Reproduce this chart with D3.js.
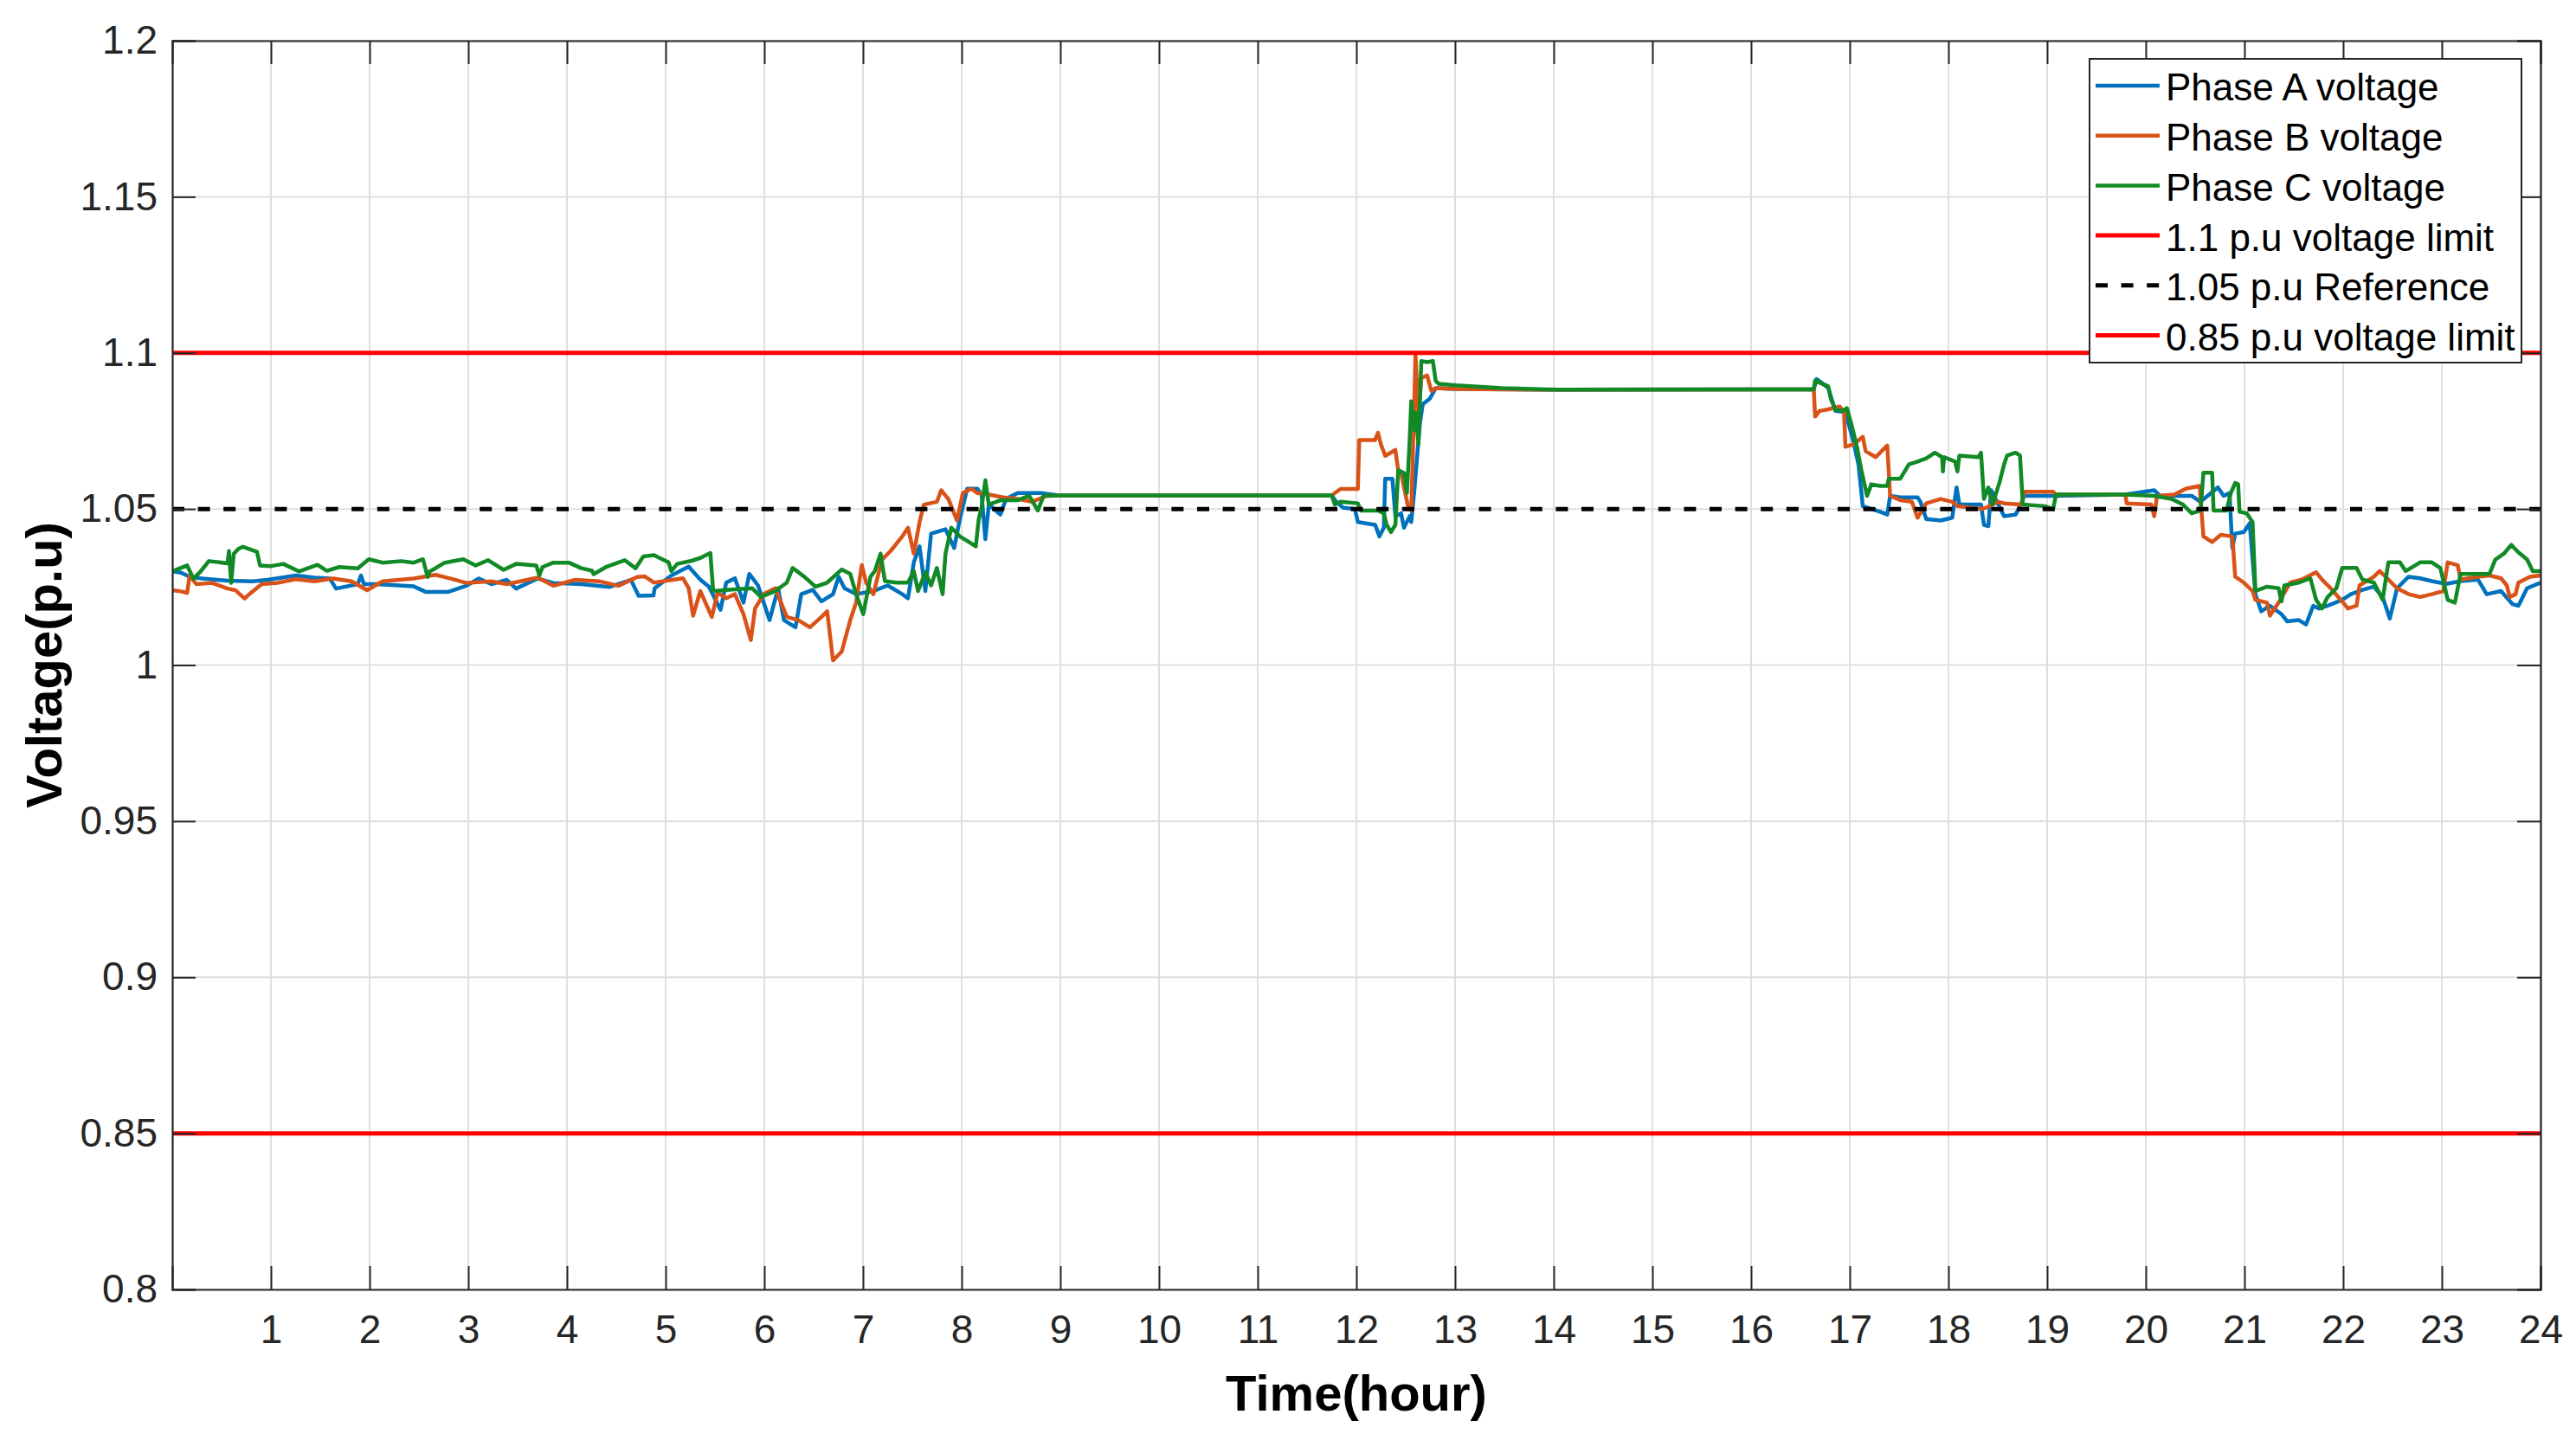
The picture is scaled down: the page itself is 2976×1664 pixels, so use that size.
<!DOCTYPE html>
<html>
<head>
<meta charset="utf-8">
<script src="https://cdn.jsdelivr.net/npm/d3@7"></script>
<style>
  body { margin: 0; background: #fff; }
  text { font-family: "Liberation Sans", Arial, sans-serif; }
</style>
</head>
<body>
<div id="voltage_chart"></div>
<script>
// hours on the x axis, tick labels
const xTicks = d3.range(1, 25);
const yTicks = [0.8, 0.85, 0.9, 0.95, 1.0, 1.05, 1.1, 1.15, 1.2];
const yTickLabels = ["0.8", "0.85", "0.9", "0.95", "1", "1.05", "1.1", "1.15", "1.2"];

const legendLabels = ["Phase A voltage", "Phase B voltage", "Phase C voltage",
  "1.1 p.u voltage limit", "1.05 p.u Reference", "0.85 p.u voltage limit"];

// reference levels (p.u)
const upperLimit = 1.1;
const referenceLevel = 1.05;
const lowerLimit = 0.85;

// [hour, voltage p.u]
const phaseA = [
  [0.0,1.0300],[0.088,1.0296],[0.182,1.0282],[0.308,1.0277],[0.56,1.0270],[0.811,1.0268],[0.969,1.0273],
  [1.252,1.0287],[1.44,1.0280],[1.597,1.0277],[1.66,1.0245],[1.881,1.0259],[1.912,1.0287],[1.943,1.0259],
  [2.069,1.0259],[2.258,1.0256],[2.447,1.0252],[2.572,1.0234],[2.792,1.0234],[2.981,1.0254],[3.107,1.0277],
  [3.233,1.0259],[3.39,1.0273],[3.484,1.0245],[3.704,1.0277],[3.862,1.0263],[4.145,1.0259],[4.428,1.0250],
  [4.648,1.0273],[4.726,1.0222],[4.877,1.0223],[4.889,1.0246],[5.058,1.0287],[5.234,1.0315],[5.351,1.0274],
  [5.439,1.0251],[5.556,1.0177],[5.614,1.0264],[5.702,1.0278],[5.789,1.0200],[5.848,1.0292],[5.936,1.0255],
  [6.053,1.0144],[6.14,1.0246],[6.199,1.0144],[6.316,1.0121],[6.374,1.0227],[6.491,1.0241],[6.579,1.0204],
  [6.696,1.0227],[6.754,1.0283],[6.813,1.0246],[6.93,1.0227],[7.105,1.0237],[7.251,1.0255],[7.398,1.0227],
  [7.456,1.0214],[7.515,1.0329],[7.573,1.0380],[7.632,1.0237],[7.69,1.0421],[7.836,1.0435],[7.924,1.0375],
  [7.982,1.0468],[8.056,1.0565],[8.158,1.0565],[8.202,1.0546],[8.24,1.0403],[8.275,1.0514],[8.392,1.0482],
  [8.45,1.0532],[8.567,1.0551],[8.801,1.0551],[9.006,1.0543],[11.751,1.0543],
  [11.795,1.0523],[11.868,1.0504],[11.985,1.0500],[12.015,1.0458],[12.19,1.0449],[12.234,1.0412],
  [12.278,1.0440],[12.292,1.0597],[12.365,1.0597],[12.395,1.0477],[12.453,1.0486],[12.482,1.0440],
  [12.541,1.0477],[12.556,1.0458],[12.585,1.0551],[12.614,1.0661],[12.643,1.0772],[12.673,1.0836],
  [12.746,1.0854],[12.804,1.0887],[13.009,1.0884],[14.061,1.0882],[16.635,1.0883],
  [16.664,1.0916],[16.781,1.0888],[16.854,1.0814],[16.956,1.0810],[17.029,1.0726],[17.088,1.0643],
  [17.132,1.0509],[17.219,1.0500],[17.307,1.0491],[17.38,1.0482],[17.409,1.0542],[17.512,1.0537],
  [17.687,1.0537],[17.716,1.0523],[17.775,1.0468],[17.921,1.0463],[18.038,1.0472],[18.082,1.0569],
  [18.111,1.0514],[18.33,1.0514],[18.36,1.0449],[18.404,1.0445],[18.433,1.0560],[18.506,1.0514],
  [18.564,1.0477],[18.681,1.0482],[18.725,1.0509],[18.769,1.0542],[19.076,1.0542],[19.792,1.0546],
  [20.085,1.0560],[20.143,1.0542],[20.465,1.0542],[20.553,1.0523],
  [20.731,1.0569],[20.789,1.0542],[20.848,1.0551],[20.877,1.0375],[20.906,1.0421],[20.994,1.0426],
  [21.053,1.0454],[21.111,1.0227],[21.17,1.0172],[21.258,1.0190],[21.375,1.0163],[21.433,1.0140],
  [21.551,1.0144],[21.624,1.0130],[21.697,1.0190],[21.755,1.0181],[21.843,1.0190],[21.99,1.0209],
  [22.078,1.0227],[22.195,1.0241],[22.312,1.0251],[22.4,1.0218],[22.473,1.0149],[22.546,1.0246],
  [22.663,1.0283],[22.78,1.0278],[22.898,1.0269],[23.044,1.0260],[23.19,1.0269],[23.366,1.0274],
  [23.454,1.0227],[23.6,1.0237],[23.717,1.0195],[23.776,1.0190],[23.864,1.0246],[24.0,1.0264]
];

const phaseB = [
  [0.0,1.0240],[0.088,1.0236],[0.151,1.0231],[0.176,1.0287],[0.245,1.0259],[0.403,1.0263],[0.56,1.0245],
  [0.638,1.0240],[0.733,1.0213],[0.796,1.0231],[0.906,1.0259],[1.063,1.0263],[1.252,1.0275],[1.44,1.0268],
  [1.629,1.0277],[1.818,1.0268],[1.975,1.0240],[2.132,1.0268],[2.447,1.0277],[2.667,1.0289],[2.824,1.0277],
  [2.981,1.0263],[3.233,1.0268],[3.39,1.0259],[3.704,1.0280],[3.862,1.0254],[4.082,1.0273],[4.333,1.0268],
  [4.522,1.0254],[4.711,1.0282],[4.789,1.0284],[4.883,1.0264],[5.175,1.0278],[5.234,1.0246],[5.278,1.0158],
  [5.351,1.0237],[5.468,1.0154],[5.526,1.0232],[5.614,1.0214],[5.702,1.0227],[5.789,1.0163],[5.863,1.0080],
  [5.906,1.0181],[5.994,1.0227],[6.111,1.0246],[6.228,1.0154],[6.345,1.0144],[6.462,1.0121],[6.579,1.0154],
  [6.637,1.0172],[6.696,1.0015],[6.784,1.0043],[6.871,1.0144],[6.93,1.0200],[6.988,1.0320],[7.032,1.0264],
  [7.105,1.0227],[7.193,1.0338],[7.281,1.0366],[7.398,1.0412],[7.456,1.0440],[7.515,1.0357],[7.573,1.0458],
  [7.617,1.0514],[7.749,1.0523],[7.792,1.0560],[7.865,1.0532],[7.953,1.0463],[8.012,1.0551],[8.099,1.0565],
  [8.158,1.0551],[8.275,1.0546],[8.421,1.0537],[8.567,1.0532],[8.713,1.0523],[8.86,1.0542],[9.006,1.0543],
  [11.751,1.0543],[11.781,1.0551],[11.839,1.0564],[12.015,1.0564],[12.029,1.0721],[12.19,1.0721],
  [12.219,1.0744],[12.249,1.0707],[12.292,1.0670],[12.395,1.0689],[12.424,1.0624],[12.453,1.0615],
  [12.526,1.0504],[12.556,1.0495],[12.585,1.0818],[12.599,1.0997],[12.629,1.0799],[12.658,1.0919],
  [12.716,1.0928],[12.76,1.0878],[12.804,1.0887],[13.009,1.0884],[14.061,1.0882],[16.635,1.0883],
  [16.649,1.0796],[16.693,1.0814],[16.781,1.0819],[16.898,1.0828],[16.942,1.0810],[16.956,1.0699],
  [17.044,1.0708],[17.132,1.0731],[17.161,1.0685],[17.263,1.0666],[17.365,1.0699],[17.38,1.0703],
  [17.409,1.0542],[17.512,1.0528],[17.629,1.0523],[17.687,1.0472],[17.775,1.0518],[17.921,1.0532],
  [18.038,1.0523],[18.096,1.0509],[18.33,1.0500],[18.389,1.0505],[18.506,1.0523],[18.564,1.0518],
  [18.74,1.0514],[18.769,1.0555],[19.061,1.0555],[19.091,1.0546],[19.792,1.0546],[19.807,1.0518],
  [20.056,1.0514],[20.085,1.0477],[20.114,1.0542],[20.289,1.0546],[20.406,1.0565],[20.545,1.0574],
  [20.584,1.0412],[20.672,1.0394],[20.76,1.0417],[20.877,1.0412],[20.906,1.0283],[20.994,1.0264],
  [21.082,1.0237],[21.111,1.0209],[21.228,1.0200],[21.258,1.0158],[21.346,1.0200],[21.463,1.0264],
  [21.58,1.0274],[21.726,1.0297],[21.785,1.0274],[21.873,1.0246],[21.99,1.0204],[22.048,1.0181],
  [22.136,1.0190],[22.165,1.0255],[22.312,1.0283],[22.37,1.0301],[22.429,1.0283],[22.546,1.0246],
  [22.663,1.0227],[22.78,1.0218],[22.898,1.0227],[23.015,1.0237],[23.059,1.0329],[23.161,1.0320],
  [23.19,1.0274],[23.366,1.0283],[23.483,1.0287],[23.6,1.0278],[23.659,1.0255],[23.688,1.0218],
  [23.747,1.0227],[23.776,1.0264],[23.893,1.0283],[24.0,1.0287]
];

const phaseC = [
  [0.0,1.0300],[0.151,1.0319],[0.214,1.0277],[0.277,1.0296],[0.371,1.0333],[0.56,1.0326],[0.575,1.0365],
  [0.597,1.0263],[0.623,1.0356],[0.67,1.0372],[0.717,1.0379],[0.858,1.0363],[0.89,1.0319],[1.0,1.0317],
  [1.126,1.0324],[1.283,1.0300],[1.472,1.0321],[1.566,1.0302],[1.692,1.0314],[1.881,1.0310],[1.991,1.0339],
  [2.132,1.0328],[2.321,1.0333],[2.447,1.0328],[2.541,1.0339],[2.588,1.0282],[2.61,1.0300],[2.667,1.0310],
  [2.761,1.0328],[2.95,1.0339],[3.075,1.0319],[3.201,1.0336],[3.358,1.0305],[3.484,1.0324],[3.689,1.0319],
  [3.72,1.0287],[3.752,1.0314],[3.862,1.0328],[4.019,1.0328],[4.145,1.0310],[4.255,1.0302],[4.27,1.0291],
  [4.396,1.0314],[4.585,1.0336],[4.695,1.0310],[4.774,1.0348],[4.883,1.0352],[5.029,1.0329],[5.058,1.0301],
  [5.117,1.0324],[5.263,1.0334],[5.351,1.0343],[5.453,1.0359],[5.482,1.0237],[5.643,1.0241],[5.877,1.0246],
  [5.965,1.0218],[6.111,1.0237],[6.228,1.0264],[6.287,1.0311],[6.404,1.0283],[6.52,1.0251],[6.637,1.0264],
  [6.784,1.0306],[6.871,1.0292],[6.93,1.0227],[7.003,1.0163],[7.076,1.0283],[7.12,1.0301],[7.178,1.0357],
  [7.222,1.0269],[7.339,1.0264],[7.456,1.0264],[7.515,1.0301],[7.558,1.0237],[7.632,1.0297],[7.69,1.0255],
  [7.749,1.0311],[7.807,1.0227],[7.836,1.0357],[7.895,1.0440],[7.982,1.0412],[8.099,1.0389],[8.143,1.0380],
  [8.173,1.0468],[8.202,1.0505],[8.24,1.0592],[8.275,1.0514],[8.392,1.0528],[8.567,1.0528],[8.684,1.0542],
  [8.772,1.0495],[8.83,1.0542],[9.006,1.0543],[11.751,1.0543],
  [11.781,1.0514],[11.839,1.0523],[12.015,1.0518],[12.044,1.0495],[12.219,1.0495],[12.278,1.0486],
  [12.307,1.0449],[12.351,1.0426],[12.395,1.0449],[12.424,1.0624],[12.482,1.0615],[12.512,1.0551],
  [12.541,1.0726],[12.556,1.0845],[12.585,1.0753],[12.599,1.0808],[12.629,1.0707],[12.658,1.0974],
  [12.716,1.0970],[12.775,1.0974],[12.804,1.0910],[12.833,1.0901],[13.009,1.0896],[13.477,1.0887],
  [14.061,1.0882],[16.635,1.0883],
  [16.649,1.0911],[16.781,1.0893],[16.81,1.0851],[16.854,1.0819],[16.927,1.0814],[16.971,1.0823],
  [17.015,1.0773],[17.073,1.0699],[17.117,1.0625],[17.175,1.0542],[17.219,1.0579],[17.307,1.0574],
  [17.38,1.0574],[17.395,1.0597],[17.512,1.0597],[17.599,1.0643],[17.687,1.0652],[17.775,1.0662],
  [17.863,1.0680],[17.936,1.0666],[17.944,1.0620],[17.956,1.0666],[18.067,1.0652],[18.091,1.0620],
  [18.111,1.0671],[18.301,1.0666],[18.33,1.0680],[18.36,1.0532],[18.404,1.0569],[18.447,1.0514],
  [18.52,1.0588],[18.564,1.0643],[18.594,1.0671],[18.681,1.0680],[18.725,1.0671],[18.754,1.0514],
  [18.974,1.0509],[19.061,1.0500],[19.091,1.0546],[19.792,1.0546],[20.085,1.0542],[20.26,1.0532],
  [20.377,1.0514],[20.465,1.0486],[20.555,1.0495],
  [20.584,1.0616],[20.672,1.0616],[20.687,1.0495],[20.818,1.0495],[20.862,1.0551],[20.906,1.0583],
  [20.936,1.0579],[20.95,1.0491],[21.023,1.0486],[21.082,1.0458],[21.111,1.0237],[21.228,1.0251],
  [21.346,1.0246],[21.375,1.0204],[21.404,1.0255],[21.551,1.0264],[21.668,1.0278],[21.726,1.0209],
  [21.785,1.0181],[21.843,1.0218],[21.931,1.0246],[21.99,1.0311],[22.136,1.0311],[22.195,1.0274],
  [22.312,1.0264],[22.4,1.0209],[22.458,1.0329],[22.575,1.0329],[22.634,1.0301],[22.78,1.0329],
  [22.898,1.0329],[22.985,1.0311],[23.059,1.0209],[23.132,1.0200],[23.19,1.0292],[23.483,1.0292],
  [23.542,1.0338],[23.63,1.0357],[23.703,1.0385],[23.776,1.0361],[23.864,1.0338],[23.922,1.0301],
  [24.0,1.0301]
];

const colors = {
  A: "#0072BD",
  B: "#D95319",
  C: "#118a26",
  limit: "#FF0000",
  ref: "#000000"
};

const chart = () => {

  d3.select("#voltage_chart").append("svg")
    .attr("id", "voltage")
    .attr("width", 2976)
    .attr("height", 1664);

  const svg = d3.select("#voltage"),
    margin = {top: 47, right: 41, bottom: 174, left: 199},
    width = +svg.attr("width") - margin.left - margin.right,
    height = +svg.attr("height") - margin.top - margin.bottom,
    g = svg.append("g").attr("transform", "translate(" + margin.left + "," + margin.top + ")");

  const x = d3.scaleLinear().domain([0, 24]).range([0, width]);
  const y = d3.scaleLinear().domain([0.8, 1.2]).range([height, 0]);

  const tickLen = 27;
  const axisColor = "#262626";

  // grid
  g.append("g")
    .attr("class", "grid")
    .selectAll("line.gx")
    .data(xTicks)
    .enter().append("line")
    .attr("x1", d => x(d)).attr("x2", d => x(d))
    .attr("y1", 0).attr("y2", height)
    .attr("stroke", "#dfdfdf").attr("stroke-width", 2);

  g.append("g")
    .attr("class", "grid")
    .selectAll("line.gy")
    .data(yTicks)
    .enter().append("line")
    .attr("x1", 0).attr("x2", width)
    .attr("y1", d => y(d)).attr("y2", d => y(d))
    .attr("stroke", "#dfdfdf").attr("stroke-width", 2);

  g.append("clipPath").attr("id", "plotclip")
    .append("rect").attr("width", width).attr("height", height);

  const line = d3.line()
    .x(d => x(d[0]))
    .y(d => y(d[1]));

  const plot = g.append("g").attr("clip-path", "url(#plotclip)");

  // phases
  [[phaseA, colors.A], [phaseB, colors.B], [phaseC, colors.C]].forEach(function (s) {
    plot.append("path")
      .datum(s[0])
      .attr("fill", "none")
      .attr("stroke", s[1])
      .attr("stroke-width", 4.5)
      .attr("stroke-linejoin", "round")
      .attr("d", line);
  });

  // limits and reference
  plot.append("path")
    .datum([[0, upperLimit], [24, upperLimit]])
    .attr("fill", "none").attr("stroke", colors.limit).attr("stroke-width", 5)
    .attr("d", line);

  plot.append("path")
    .datum([[0, referenceLevel], [24, referenceLevel]])
    .attr("fill", "none").attr("stroke", colors.ref).attr("stroke-width", 5)
    .attr("stroke-dasharray", "14,15.6")
    .attr("d", line);

  plot.append("path")
    .datum([[0, lowerLimit], [24, lowerLimit]])
    .attr("fill", "none").attr("stroke", colors.limit).attr("stroke-width", 5)
    .attr("d", line);

  // axes (box with inward ticks)
  const xAxis = g.append("g")
    .attr("class", "axis axis--x")
    .attr("transform", "translate(0," + height + ")")
    .call(d3.axisBottom(x).tickValues(xTicks).tickSize(-tickLen).tickPadding(29).tickFormat(d3.format("d")));

  const yAxis = g.append("g")
    .attr("class", "axis axis--y")
    .call(d3.axisLeft(y).tickValues(yTicks).tickSize(-tickLen).tickPadding(17)
      .tickFormat((d, i) => yTickLabels[i]));

  g.append("g")
    .attr("class", "axis axis--top")
    .call(d3.axisTop(x).tickValues(xTicks).tickSize(-tickLen).tickFormat(""));

  g.append("g")
    .attr("class", "axis axis--right")
    .attr("transform", "translate(" + width + ",0)")
    .call(d3.axisRight(y).tickValues(yTicks).tickSize(-tickLen).tickFormat(""));

  g.selectAll(".axis path.domain")
    .attr("stroke", axisColor).attr("stroke-width", 2.2);
  g.selectAll(".axis .tick line")
    .attr("stroke", axisColor).attr("stroke-width", 2);
  g.selectAll(".axis text")
    .attr("fill", axisColor)
    .style("font-size", "46px")
    .style("font-family", "'Liberation Sans', Arial, sans-serif");

  // axis titles
  g.append("text")
    .attr("x", width / 2)
    .attr("y", height + 140)
    .attr("text-anchor", "middle")
    .attr("fill", "#000")
    .style("font-size", "58px")
    .style("font-weight", "bold")
    .text("Time(hour)");

  g.append("text")
    .attr("transform", "translate(" + (50 - margin.left) + "," + (height / 2) + ") rotate(-90)")
    .attr("text-anchor", "middle")
    .attr("dy", "0.36em")
    .attr("fill", "#000")
    .style("font-size", "58px")
    .style("font-weight", "bold")
    .text("Voltage(p.u)");

  // making the legend
  const legendX = 2414 - margin.left,
    legendY = 68 - margin.top,
    legendW = 499,
    legendH = 351;

  const legendBox = g.append("g")
    .attr("class", "legend")
    .attr("transform", "translate(" + legendX + "," + legendY + ")");

  legendBox.append("rect")
    .attr("width", legendW)
    .attr("height", legendH)
    .attr("fill", "#fff")
    .attr("stroke", axisColor)
    .attr("stroke-width", 2);

  const legendStyles = [
    {color: colors.A, dash: null},
    {color: colors.B, dash: null},
    {color: colors.C, dash: null},
    {color: colors.limit, dash: null},
    {color: colors.ref, dash: "14,15.6"},
    {color: colors.limit, dash: null}
  ];

  const legendRow = legendBox.selectAll(".legend-row")
    .data(legendLabels)
    .enter().append("g")
    .attr("class", "legend-row")
    .attr("transform", function (d, i) { return "translate(0," + (31 + i * 57.7) + ")"; });

  legendRow.append("line")
    .attr("x1", 7).attr("x2", 81)
    .attr("y1", 0).attr("y2", 0)
    .attr("stroke", (d, i) => legendStyles[i].color)
    .attr("stroke-width", (d, i) => i < 3 ? 4.5 : 5)
    .attr("stroke-dasharray", (d, i) => legendStyles[i].dash);

  legendRow.append("text")
    .attr("x", 88)
    .attr("y", 2)
    .attr("dy", "0.35em")
    .attr("fill", "#000")
    .style("font-size", "44px")
    .text(d => d);
}

chart();
</script>
</body>
</html>
